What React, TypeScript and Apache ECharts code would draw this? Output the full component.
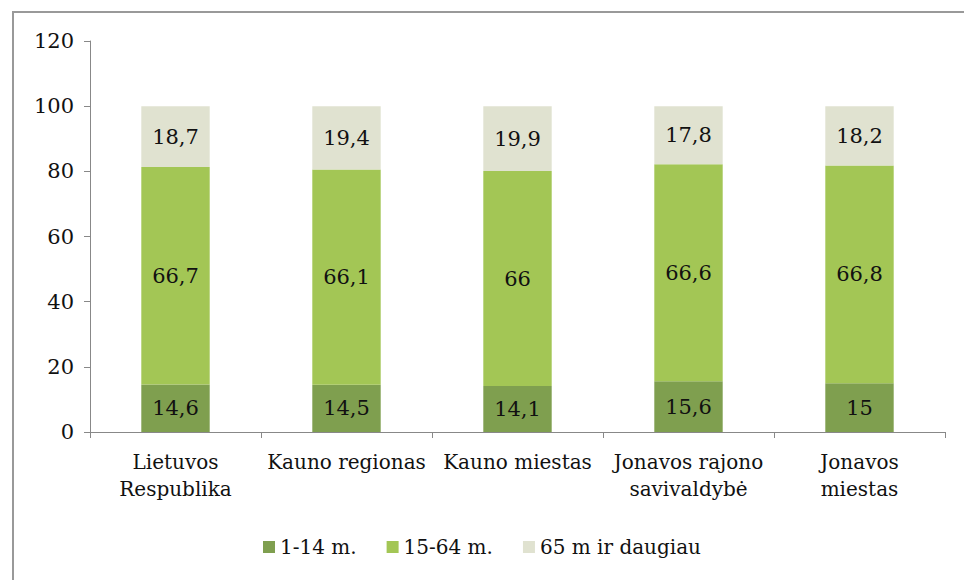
import React, { useEffect, useRef } from "react";
import * as echarts from "echarts";

const categories = [
  "Lietuvos\nRespublika",
  "Kauno regionas",
  "Kauno miestas",
  "Jonavos rajono\nsavivaldybė",
  "Jonavos\nmiestas",
];
const seriesNames = ["1-14 m.", "15-64 m.", "65 m ir daugiau"];
const age1to14 = [14.6, 14.5, 14.1, 15.6, 15];
const age15to64 = [66.7, 66.1, 66, 66.6, 66.8];
const age65plus = [18.7, 19.4, 19.9, 17.8, 18.2];
const yTicks = { min: 0, max: 120, interval: 20 };

const colors = ["#7f9f4f", "#a3c655", "#e0e2d0"];
const font = "DejaVu Serif";

export default function App() {
  const ref = useRef<HTMLDivElement>(null);
  useEffect(() => {
    document.body.style.margin = "0";
    const chart = echarts.init(ref.current!, null, { renderer: "svg" });
    const data = [age1to14, age15to64, age65plus];
    chart.setOption({
      animation: false,
      backgroundColor: "#ffffff",
      textStyle: { fontFamily: font },
      grid: { left: 90, right: 19, top: 41, bottom: 148 },
      graphic: [
        {
          type: "rect",
          shape: { x: 13, y: 12, width: 960, height: 575 },
          style: { fill: "none", stroke: "#999", lineWidth: 2 },
          silent: true,
        },
      ],
      legend: {
        bottom: 18,
        left: "center",
        itemWidth: 12,
        itemHeight: 12,
        itemGap: 30,
        icon: "rect",
        textStyle: { fontFamily: font, fontSize: 20, color: "#111" },
        data: seriesNames,
      },
      xAxis: {
        type: "category",
        data: categories,
        axisLine: { lineStyle: { color: "#888" } },
        axisTick: { show: true, alignWithLabel: false, length: 6, lineStyle: { color: "#888" } },
        axisLabel: {
          fontFamily: font,
          fontSize: 20,
          color: "#111",
          lineHeight: 27,
          margin: 16,
          interval: 0,
        },
      },
      yAxis: {
        type: "value",
        min: yTicks.min,
        max: yTicks.max,
        interval: yTicks.interval,
        splitLine: { show: false },
        axisLine: { show: true, lineStyle: { color: "#888" } },
        axisTick: { show: true, length: 6, lineStyle: { color: "#888" } },
        axisLabel: { fontFamily: font, fontSize: 21, color: "#111", margin: 16 },
      },
      series: seriesNames.map((name, i) => ({
        name,
        type: "bar",
        stack: "total",
        barWidth: "40%",
        itemStyle: { color: colors[i] },
        label: {
          show: true,
          position: "inside",
          fontFamily: font,
          fontSize: 21,
          color: "#111",
          formatter: (p: any) => String(p.value).replace(".", ","),
        },
        data: data[i],
      })),
    });
    return () => chart.dispose();
  }, []);
  return <div ref={ref} style={{ width: 964, height: 580 }} />;
}
